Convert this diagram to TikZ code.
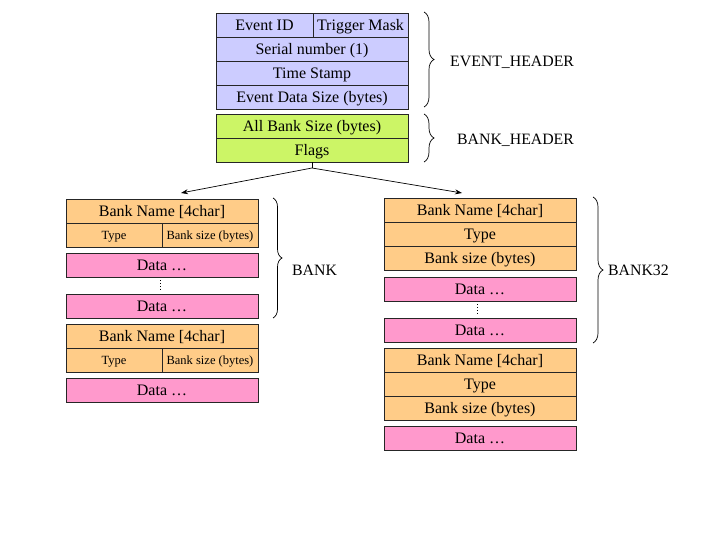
\documentclass[tikz,border=0pt]{standalone}
\usepackage{fontspec}
\setmainfont{Liberation Serif}
\usetikzlibrary{arrows.meta,decorations.pathreplacing}
\definecolor{lav}{HTML}{CCCCFF}
\definecolor{lime}{HTML}{CCF566}
\definecolor{peach}{HTML}{FFCC88}
\definecolor{pinkd}{HTML}{FF99CC}
\begin{document}
\begin{tikzpicture}[x=1pt,y=-1pt,
  cell/.style={draw=black!85,line width=0.8pt,inner sep=0pt,minimum height=24pt,
    text height=10.5pt,text depth=0pt,
    font=\fontsize{16}{19}\selectfont},
  full/.style={cell,minimum width=192pt},
  half/.style={cell,minimum width=96pt},
  small/.style={font=\fontsize{12.5}{15}\selectfont,text height=8.5pt},
  hdr/.style={fill=lav},
  bh/.style={fill=lime},
  bk/.style={fill=peach},
  dat/.style={fill=pinkd},
  lbl/.style={anchor=west,inner sep=0pt,font=\fontsize{15.8}{19}\selectfont},
  brc/.style={decorate,decoration={brace,amplitude=10pt},line width=0.7pt},
  conn/.style={line width=0.7pt},
  dots/.style={dotted,line width=0.8pt,shorten <=3pt,shorten >=3pt}]
\useasboundingbox (0,0) rectangle (720,540);
% event header
\node[cell,hdr,minimum width=97pt] (eid) at (264.5,25) {Event ID};
\node[cell,hdr,minimum width=95pt] (tm) at (360.5,25) {Trigger Mask};
\node[full,hdr] (sn) at (312,49) {Serial number (1)};
\node[full,hdr] (ts) at (312,73) {Time Stamp};
\node[full,hdr] (eds) at (312,97) {Event Data Size (bytes)};
% bank header
\node[full,bh] (abs) at (312,126) {All Bank Size (bytes)};
\node[full,bh] (fl) at (312,150) {Flags};
% left banks
\node[full,bk] (lbn1) at (162,211) {Bank Name [4char]};
\node[half,bk,small] (lty1) at (114,235) {Type};
\node[half,bk,small] (lbs1) at (210,235) {Bank size (bytes)};
\node[full,dat] (ld1) at (162,265) {Data …};
\node[full,dat] (ld2) at (162,306) {Data …};
\node[full,bk] (lbn2) at (162,336) {Bank Name [4char]};
\node[half,bk,small] (lty2) at (114,360) {Type};
\node[half,bk,small] (lbs2) at (210,360) {Bank size (bytes)};
\node[full,dat] (ld3) at (162,390) {Data …};
% right banks
\node[full,bk] (rbn1) at (480,210) {Bank Name [4char]};
\node[full,bk] (rty1) at (480,234) {Type};
\node[full,bk] (rbs1) at (480,258) {Bank size (bytes)};
\node[full,dat] (rd1) at (480,289) {Data …};
\node[full,dat] (rd2) at (480,330) {Data …};
\node[full,bk] (rbn2) at (480,360) {Bank Name [4char]};
\node[full,bk] (rty2) at (480,384) {Type};
\node[full,bk] (rbs2) at (480,408) {Bank size (bytes)};
\node[full,dat] (rd3) at (480,438) {Data …};
% dotted continuation
\draw[dots] ([xshift=-2pt]ld1.south) -- ([xshift=-2pt]ld2.north);
\draw[dots] ([xshift=-3pt]rd1.south) -- ([xshift=-3pt]rd2.north);
% connectors
\coordinate (fork) at (312,168);
\coordinate (la) at (181,193);
\coordinate (ra) at (462,193);
\draw[conn] (fl.south) -- (fork);
\draw[conn,-{Stealth[length=7pt,width=5pt]}] (fork) -- (la);
\draw[conn,-{Stealth[length=7pt,width=5pt]}] (fork) -- (ra);
% braces
\draw[brc] (424,12) -- (424,107);
\draw[brc] (424,114) -- (424,162);
\draw[brc,decoration={amplitude=9pt}] (273,198) -- (273,318);
\draw[brc] (593,197) -- (593,343);
\node[lbl] (evh) at (450,62) {EVENT\_HEADER};
\node[lbl] (bkh) at (457,140) {BANK\_HEADER};
\node[lbl] (bnk) at (292,270) {BANK};
\node[lbl] (b32) at (608,270) {BANK32};
\end{tikzpicture}
\end{document}
